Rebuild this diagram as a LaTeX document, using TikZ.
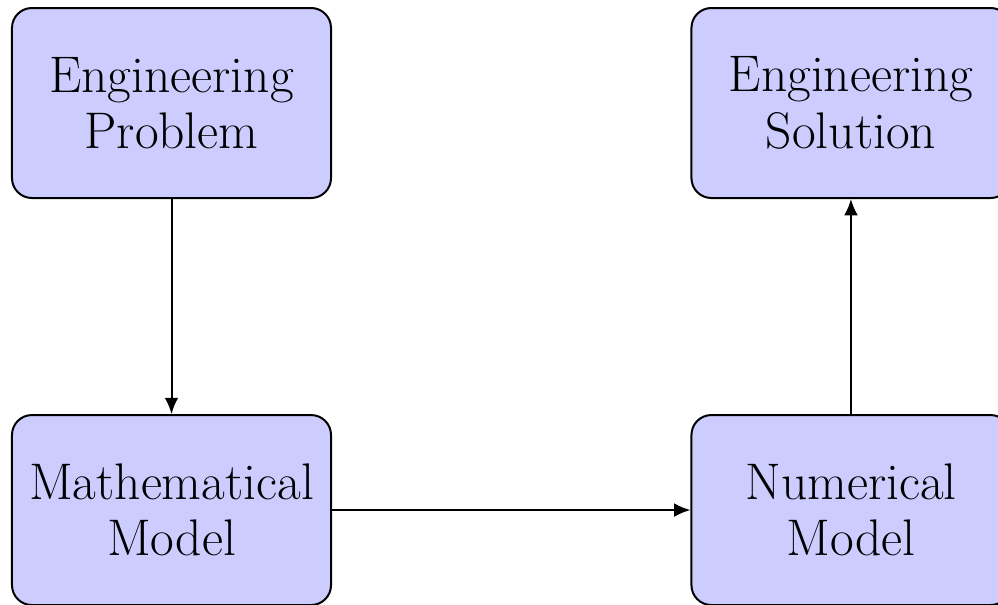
\documentclass[tikz,border=0pt]{standalone}
\usepackage{tikz}
\usetikzlibrary{arrows.meta}

\begin{document}
\begin{tikzpicture}[line width=0.8pt,
    box/.style={rectangle, rounded corners=0.28cm, draw=black, fill=blue!20,
        minimum width=4.485cm, minimum height=2.671cm, inner sep=0pt,
        align=center, font=\fontsize{20.6}{22.6}\selectfont},
    arr/.style={-{Latex[length=6.5pt,width=5.5pt]}}]
    \useasboundingbox (0,0) rectangle (14.03,-8.505);
    \clip (0,0) rectangle (14.03,-8.505);

    % Problem side
    \node(101) at (2.411,-1.448) [box] {Engineering\\Problem};
    \node(102) at (2.411,-7.170) [box] {Mathematical\\Model};
    \draw [arr] (101) edge (102);

    % Solution side
    \node(201) at (11.963,-7.170) [box] {Numerical\\Model};
    \node(202) at (11.963,-1.448) [box] {Engineering\\Solution};
    \draw [arr] (102) edge (201);
    \draw [arr] (201) edge (202);

\end{tikzpicture}
\end{document}
